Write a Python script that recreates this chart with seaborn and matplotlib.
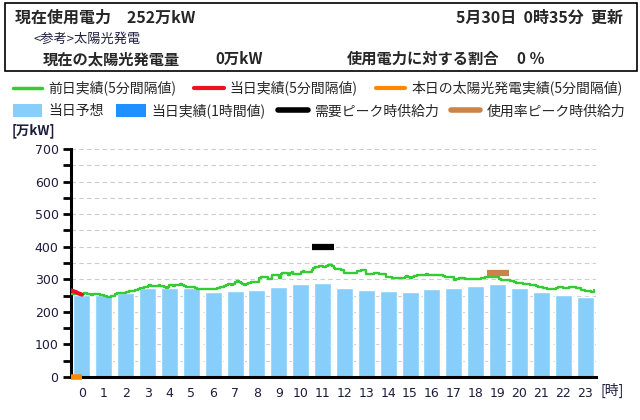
import numpy as np
import matplotlib
matplotlib.use("Agg")
from matplotlib import pyplot as plt
from matplotlib.lines import Line2D
from matplotlib.patches import Patch, Rectangle
import seaborn as sns

sns.set_style("white")
plt.rcParams['font.family'] = ['Noto Sans CJK JP', 'DejaVu Sans']

# hourly forecast (当日予想), 万kW
hours = list(range(24))
forecast = [253, 251, 259, 272, 272, 272, 260, 264, 267, 276, 285, 288,
            273, 267, 264, 260, 270, 273, 279, 285, 273, 260, 251, 245]

# previous day actual, 5-minute values (one row per hour)
prev_day = [
    255, 256, 255, 254, 254, 255, 256, 257, 258, 256, 254, 253,
    254, 255, 256, 255, 253, 252, 250, 248, 247, 247, 248, 250,
    254, 258, 258, 257, 257, 258, 260, 262, 263, 264, 265, 266,
    268, 270, 272, 273, 275, 276, 280, 281, 279, 278, 279, 280,
    281, 280, 278, 276, 274, 275, 281, 281, 280, 281, 281, 282,
    284, 282, 279, 277, 277, 277, 277, 276, 273, 271, 270, 270,
    269, 269, 269, 269, 270, 269, 269, 270, 272, 274, 275, 276,
    278, 282, 285, 284, 282, 286, 292, 295, 292, 290, 285, 281,
    286, 288, 290, 291, 292, 293, 293, 305, 306, 306, 306, 306,
    302, 300, 314, 314, 313, 312, 305, 317, 318, 319, 318, 313,
    320, 321, 316, 315, 315, 315, 323, 324, 323, 322, 322, 322,
    330, 334, 337, 339, 340, 341, 338, 337, 340, 343, 345, 340,
    335, 333, 331, 331, 330, 330, 320, 318, 318, 318, 318, 318,
    320, 325, 326, 327, 328, 328, 316, 315, 316, 317, 318, 318,
    318, 317, 317, 317, 316, 307, 307, 306, 305, 305, 304, 304,
    304, 304, 303, 306, 309, 306, 304, 307, 310, 311, 313, 314,
    313, 312, 313, 315, 314, 312, 312, 312, 312, 312, 312, 312,
    309, 308, 308, 308, 308, 308, 298, 301, 302, 304, 305, 303,
    300, 300, 300, 300, 300, 300, 300, 300, 302, 304, 305, 306,
    307, 307, 307, 307, 306, 306, 306, 302, 297, 297, 297, 297,
    297, 296, 294, 291, 290, 289, 289, 288, 286, 285, 284, 284,
    282, 281, 281, 280, 277, 276, 275, 273, 272, 271, 270, 269,
    269, 270, 274, 275, 275, 275, 274, 274, 272, 275, 275, 275,
    275, 274, 274, 272, 268, 266, 264, 263, 263, 262, 262, 266,
]
minutes_all = list(range(0, 1440, 5))

# today actual so far (5-minute values) and solar
today = [266, 264, 262, 260, 257, 255, 253]
solar = [0, 0, 0, 0, 0, 0, 0]
minutes_today = list(range(0, 35, 5))

peak_hour, peak_supply = 11, 400
usage_peak_hour, usage_peak_supply = 19, 320

c_green = '#33cc33'
c_red = '#ee1122'
c_orange = '#ff8800'
c_fore = '#87cefa'
c_act = '#1e90ff'
c_black = '#000000'
c_brown = '#c8844a'
tick_col = '#1c1c3c'


def to_x(mins):
    # minutes of the day -> category axis position (slot h spans h-0.5..h+0.5)
    return np.asarray(mins) / 60.0 - 0.5


fig = plt.figure(figsize=(6.4, 4.2), dpi=100)
ax = fig.add_axes([71 / 640, 43 / 420, 525 / 640, 228 / 420])

sns.barplot(x=hours, y=forecast, color=c_fore, saturation=1, width=0.78, ax=ax)
sns.lineplot(x=to_x(minutes_all), y=prev_day, color=c_green, lw=1.7, ax=ax,
             drawstyle='steps-post', zorder=4)
sns.lineplot(x=to_x(minutes_today), y=today, color=c_red, lw=3, ax=ax, zorder=5)
ax.plot(to_x(minutes_today), solar, color=c_orange, lw=4, clip_on=False,
        solid_capstyle='butt', zorder=6)
ax.hlines(peak_supply, peak_hour - 0.5, peak_hour + 0.5, color=c_black, lw=4.5, zorder=5)
ax.hlines(usage_peak_supply, usage_peak_hour - 0.5, usage_peak_hour + 0.5,
          color=c_brown, lw=4.5, zorder=5)

ax.set_xlim(-0.5, 23.5)
ax.set_ylim(0, 700)
ax.set_yticks(range(0, 701, 100))
ax.set_yticks(range(50, 700, 100), minor=True)
ax.set_xticks(hours)
ax.set_xticklabels([str(h) for h in hours])
ax.tick_params(axis='x', length=0, pad=7, labelsize=9, labelcolor=tick_col)
ax.tick_params(axis='y', which='both', direction='out', length=6, width=2,
               color='black', left=True, labelsize=9, labelcolor=tick_col, pad=3)
for lab in ax.get_xticklabels() + ax.get_yticklabels():
    lab.set_fontfamily('DejaVu Sans')
ax.grid(axis='y', which='both', ls=(0, (4, 3)), color='#cccccc', lw=0.8)
ax.set_axisbelow(True)
for s in ['top', 'right']:
    ax.spines[s].set_visible(False)
for s in ['left', 'bottom']:
    ax.spines[s].set_color('black')
    ax.spines[s].set_linewidth(2.2)
ax.set_xlabel('')
ax.set_ylabel('')

fig.text(12 / 640, 1 - 131 / 420, '[万kW]', fontsize=9.5, fontweight='bold',
         va='center', color=tick_col)
fig.text(600 / 640, 1 - 390 / 420, '[時]', fontsize=10, va='center', color=tick_col)

# header box
fig.add_artist(Rectangle((5 / 640, 1 - 71 / 420), 632 / 640, 68 / 420,
                         transform=fig.transFigure, fill=False, ec='black', lw=1.2))
fig.text(15 / 640, 1 - 18 / 420, '現在使用電力　252万kW', fontsize=11.5,
         fontweight='bold', va='center')
fig.text(623 / 640, 1 - 18 / 420, '5月30日  0時35分  更新', fontsize=11.5,
         fontweight='bold', va='center', ha='right')
fig.text(33 / 640, 1 - 39 / 420, '<参考>太陽光発電', fontsize=9.5, va='center',
         color='#202040')
fig.text(43 / 640, 1 - 59 / 420, '現在の太陽光発電量', fontsize=11,
         fontweight='bold', va='center')
fig.text(215 / 640, 1 - 59 / 420, '0万kW', fontsize=11, fontweight='bold', va='center')
fig.text(347 / 640, 1 - 59 / 420, '使用電力に対する割合', fontsize=11,
         fontweight='bold', va='center')
fig.text(517 / 640, 1 - 59 / 420, '0 ％', fontsize=11, fontweight='bold', va='center')

# legend rows
row1 = [Line2D([], [], color=c_green, lw=2.5),
        Line2D([], [], color=c_red, lw=3),
        Line2D([], [], color=c_orange, lw=3)]
row1_lbl = ['前日実績(5分間隔値)', '当日実績(5分間隔値)', '本日の太陽光発電実績(5分間隔値)']
row2 = [Patch(facecolor=c_fore, edgecolor='none'),
        Patch(facecolor=c_act, edgecolor='none'),
        Line2D([], [], color=c_black, lw=4),
        Line2D([], [], color=c_brown, lw=4)]
row2_lbl = ['当日予想', '当日実績(1時間値)', '需要ピーク時供給力', '使用率ピーク時供給力']
kw = dict(frameon=False, fontsize=10, handlelength=2.1, handletextpad=0.45,
          borderaxespad=0, borderpad=0)
fig.legend(row1, row1_lbl, ncol=3, loc='center left', columnspacing=1.3,
           bbox_to_anchor=(13 / 640, 1 - 88 / 420), **kw)
fig.legend(row2, row2_lbl, ncol=4, loc='center left', handleheight=1.0,
           columnspacing=0.9, bbox_to_anchor=(13 / 640, 1 - 111 / 420), **kw)

fig.savefig('out.png', dpi=100)
